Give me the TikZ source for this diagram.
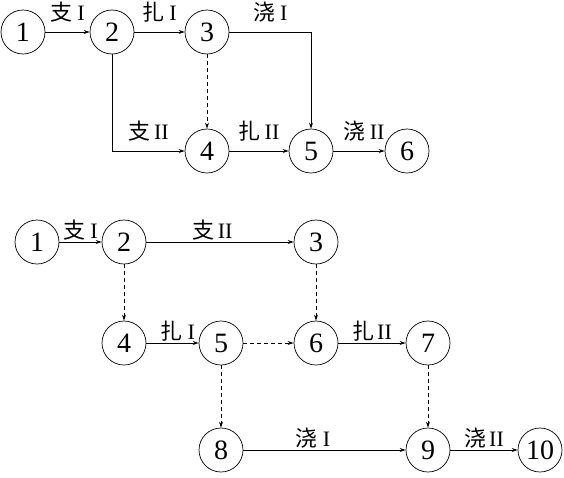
\documentclass[tikz,border=0pt]{standalone}
\usepackage{fontspec}
\setmainfont{Liberation Serif}
\newfontfamily\cjk{Noto Sans CJK SC}
\usetikzlibrary{positioning, arrows.meta}

\begin{document}
\begin{tikzpicture}[x=1pt,y=1pt,on grid,
    event/.style={circle,draw,line width=0.7pt,minimum size=44pt,inner sep=0pt,
      font=\fontsize{28}{28}\selectfont},
    work/.style={-{Stealth[length=6pt,width=4pt]},line width=0.8pt},
    dummy/.style={work,dash pattern=on 4pt off 3pt},
    toplbl/.style={font=\fontsize{22}{22}\selectfont,inner sep=0pt,text depth=0pt,above=11pt},
    lowlbl/.style={font=\fontsize{22}{22}\selectfont,inner sep=0pt,text depth=0pt,above=3.5pt}]
  \useasboundingbox (0,0) rectangle (564,-477);

  % first network
  \node[event] (a1) at (23,-32) {1};
  \node[event] (a2) [right=89pt of a1] {2};
  \node[event] (a3) [right=95pt of a2] {3};
  \node[event] (a4) [below=119pt of a3] {4};
  \node[event] (a5) [right=104pt of a4] {5};
  \node[event] (a6) [right=96pt of a5] {6};

  \path[work]
    (a1) edge node[toplbl] {{\cjk 支}\hspace{5pt}I} (a2)
    (a2) edge node[toplbl] {{\cjk 扎}\hspace{5pt}I} (a3)
    (a4) edge node[toplbl] {{\cjk 扎}\hspace{4pt}II} (a5)
    (a5) edge node[toplbl,pos=0.6] {{\cjk 浇}\hspace{4pt}II} (a6);
  \draw[work] (a3) -| node[toplbl,pos=0.25] {{\cjk 浇}\hspace{5pt}I} (a5);
  \draw[work] (a2) |- node[toplbl,pos=0.75] {{\cjk 支}\hspace{4pt}II} (a4);
  \draw[dummy] (a3) -- (a4);

  % second network
  \node[event] (b1) at (37,-242) {1};
  \node[event] (b2) [right=87pt of b1] {2};
  \node[event] (b3) [right=192pt of b2] {3};
  \node[event] (b4) [below=101pt of b2] {4};
  \node[event] (b5) [right=97pt of b4] {5};
  \node[event] (b6) [right=95pt of b5] {6};
  \node[event] (b7) [right=112pt of b6] {7};
  \node[event] (b8) [below=107pt of b5] {8};
  \node[event] (b9) [below=107pt of b7] {9};
  \node[event] (b10) [right=112pt of b9] {10};

  \path[work]
    (b1) edge node[lowlbl] {{\cjk 支}\hspace{5pt}I} (b2)
    (b2) edge node[lowlbl,pos=0.45] {{\cjk 支}\hspace{3pt}II} (b3)
    (b4) edge node[lowlbl,pos=0.6] {{\cjk 扎}\hspace{5pt}I} (b5)
    (b6) edge node[lowlbl] {{\cjk 扎}\hspace{3pt}II} (b7)
    (b8) edge node[lowlbl,pos=0.43] {{\cjk 浇}\hspace{5pt}I} (b9)
    (b9) edge node[lowlbl] {{\cjk 浇}\hspace{3pt}II} (b10);
  \path[dummy]
    (b2) edge (b4)
    (b3) edge (b6)
    (b5) edge (b6)
         edge (b8)
    (b7) edge (b9);
\end{tikzpicture}
\end{document}
